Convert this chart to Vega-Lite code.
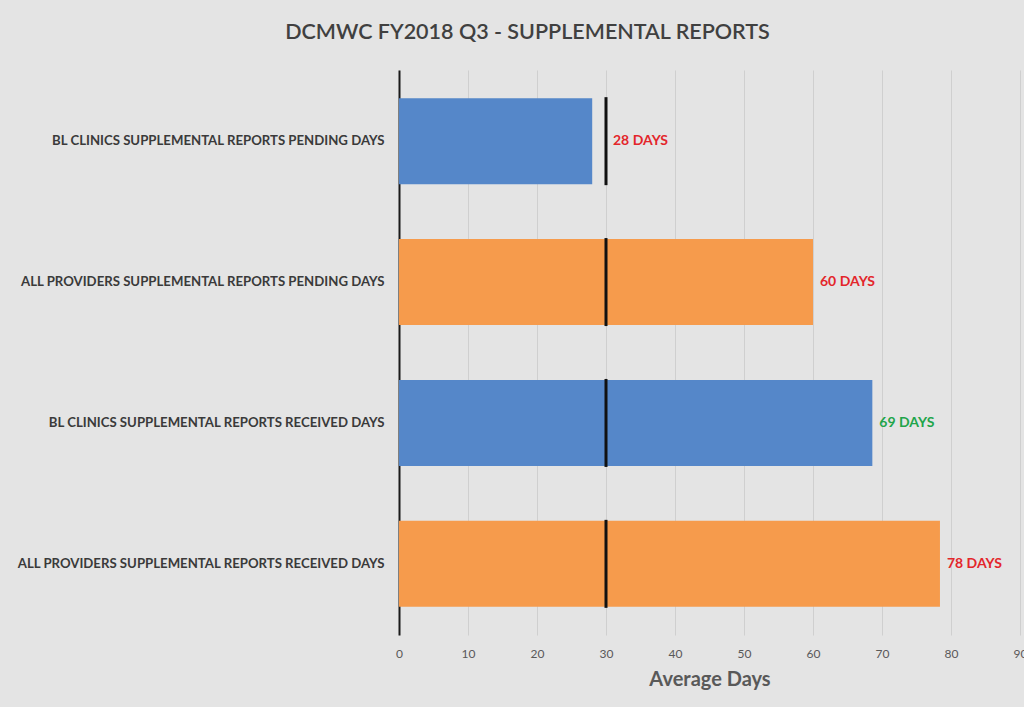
{
  "$schema": "https://vega.github.io/schema/vega-lite/v6.json",
  "width": 621,
  "height": 565,
  "autosize": {"type": "none"},
  "padding": {"left": 399, "top": 70, "right": 4, "bottom": 72},
  "background": "#e4e4e4",
  "title": {
    "text": "DCMWC FY2018 Q3 - SUPPLEMENTAL REPORTS",
    "font": "Lato",
    "fontSize": 21.5,
    "fontWeight": 600,
    "color": "#404040",
    "anchor": "middle",
    "dx": -182,
    "offset": 27
  },
  "data": {
    "values": [
      {"category": "BL CLINICS SUPPLEMENTAL REPORTS PENDING DAYS", "days": 28, "target": 30, "label": "28 DAYS", "group": "BL", "status": "over"},
      {"category": "ALL PROVIDERS SUPPLEMENTAL REPORTS PENDING DAYS", "days": 60, "target": 30, "label": "60 DAYS", "group": "ALL", "status": "over"},
      {"category": "BL CLINICS SUPPLEMENTAL REPORTS RECEIVED DAYS", "days": 68.6, "target": 30, "label": "69 DAYS", "group": "BL", "status": "ok"},
      {"category": "ALL PROVIDERS SUPPLEMENTAL REPORTS RECEIVED DAYS", "days": 78.4, "target": 30, "label": "78 DAYS", "group": "ALL", "status": "over"}
    ]
  },
  "encoding": {
    "y": {
      "field": "category",
      "type": "nominal",
      "sort": null,
      "scale": {"paddingInner": 0.39, "paddingOuter": 0.2},
      "axis": {
        "title": null,
        "domainColor": "#1a1a1a",
        "domainWidth": 2,
        "ticks": false,
        "labelFont": "Lato",
        "labelFontWeight": "bold",
        "labelFontSize": 13.2,
        "labelColor": "#3a3a3a",
        "labelPadding": 15,
        "labelLimit": 400
      }
    }
  },
  "layer": [
    {
      "mark": {"type": "bar"},
      "encoding": {
        "x": {
          "field": "days",
          "type": "quantitative",
          "scale": {"domain": [0, 90], "nice": false},
          "axis": {
            "title": "Average Days",
            "titleFont": "Lato",
            "titleFontSize": 20,
            "titleFontWeight": "bold",
            "titleColor": "#595959",
            "titlePadding": 10,
            "values": [0, 10, 20, 30, 40, 50, 60, 70, 80, 90],
            "domain": false,
            "ticks": false,
            "grid": true,
            "gridColor": "#cfcfcf",
            "gridWidth": 1,
            "labelFont": "Lato",
            "labelFontSize": 12,
            "labelColor": "#595959",
            "labelPadding": 13,
            "labelFlush": false
          }
        },
        "color": {
          "field": "group",
          "type": "nominal",
          "scale": {"domain": ["BL", "ALL"], "range": ["#5587c9", "#f69b4c"]},
          "legend": null
        }
      }
    },
    {
      "mark": {"type": "tick", "color": "#111111", "thickness": 3, "size": 88, "opacity": 1},
      "encoding": {
        "x": {"field": "target", "type": "quantitative"}
      }
    },
    {
      "transform": [{"calculate": "max(datum.days, datum.target)", "as": "labelAt"}],
      "mark": {"type": "text", "align": "left", "baseline": "middle", "dx": 7, "font": "Lato", "fontWeight": "bold", "fontSize": 14},
      "encoding": {
        "x": {"field": "labelAt", "type": "quantitative"},
        "text": {"field": "label"},
        "color": {
          "field": "status",
          "type": "nominal",
          "scale": {"domain": ["over", "ok"], "range": ["#e3262b", "#21a44a"]},
          "legend": null
        }
      }
    }
  ],
  "resolve": {"scale": {"color": "independent"}},
  "config": {"view": {"stroke": null}}
}
